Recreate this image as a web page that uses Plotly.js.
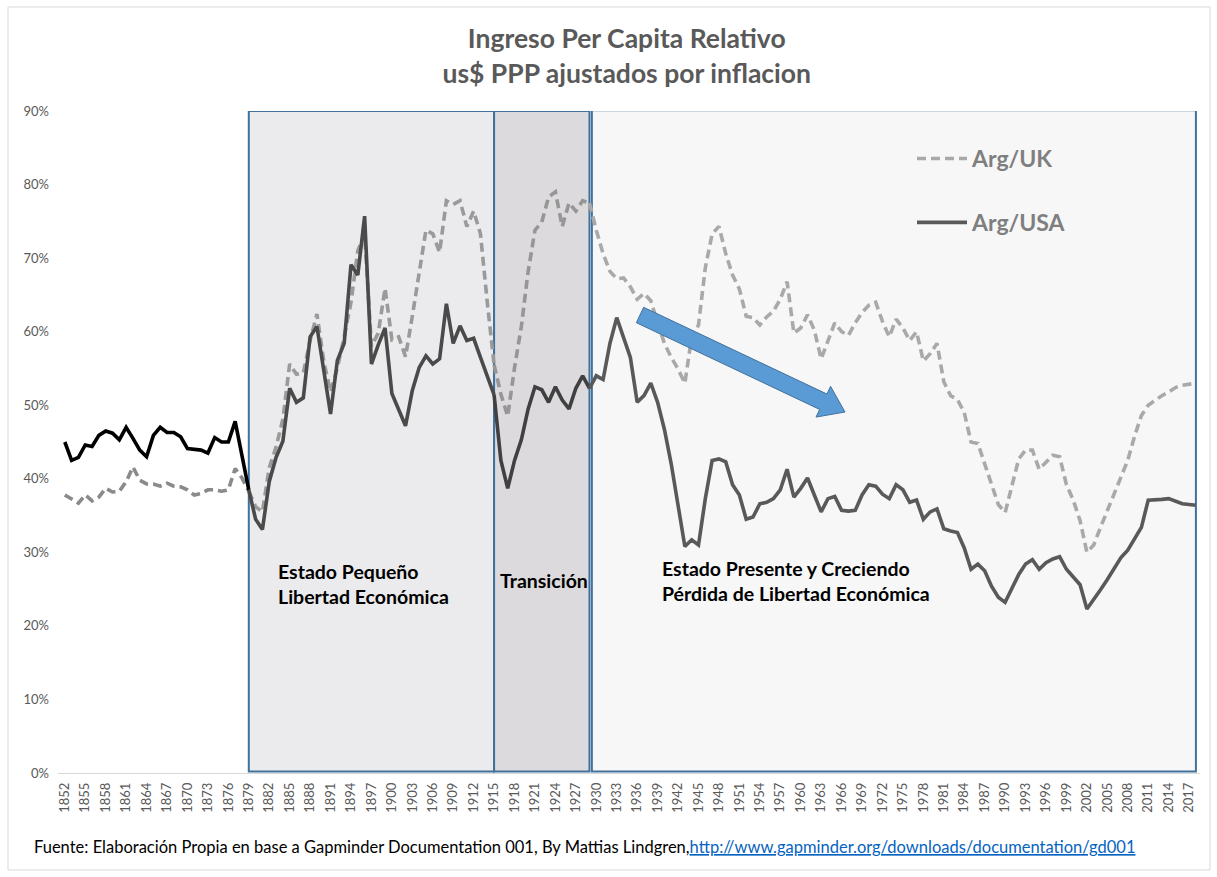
<!DOCTYPE html>
<html>
<head>
<meta charset="utf-8">
<script src="https://cdn.plot.ly/plotly-3.0.1.min.js"></script>
<style>html,body{margin:0;padding:0;background:#fff;}#chart{width:1217px;height:877px;}</style>
</head>
<body>
<div id="chart"></div>
<script>
// ---- DATA ----
const years = [1852,1853,1854,1855,1856,1857,1858,1859,1860,1861,1862,1863,1864,1865,1866,1867,1868,1869,1870,1871,1872,1873,1874,1875,1876,1877,1878,1879,1880,1881,1882,1883,1884,1885,1886,1887,1888,1889,1890,1891,1892,1893,1894,1895,1896,1897,1898,1899,1900,1901,1902,1903,1904,1905,1906,1907,1908,1909,1910,1911,1912,1913,1914,1915,1916,1917,1918,1919,1920,1921,1922,1923,1924,1925,1926,1927,1928,1929,1930,1931,1932,1933,1934,1935,1936,1937,1938,1939,1940,1941,1942,1943,1944,1945,1946,1947,1948,1949,1950,1951,1952,1953,1954,1955,1956,1957,1958,1959,1960,1961,1962,1963,1964,1965,1966,1967,1968,1969,1970,1971,1972,1973,1974,1975,1976,1977,1978,1979,1980,1981,1982,1983,1984,1985,1986,1987,1988,1989,1990,1991,1992,1993,1994,1995,1996,1997,1998,1999,2000,2001,2002,2003,2004,2005,2006,2007,2008,2009,2010,2011,2012,2013,2014,2015,2016,2017,2018];

const argUSA = [45.0,42.5,42.9,44.6,44.4,45.9,46.5,46.2,45.3,47.0,45.5,43.9,43.0,45.9,47.0,46.3,46.3,45.7,44.1,44.0,43.9,43.5,45.6,45.0,45.0,47.8,43.2,38.5,34.5,33.1,39.6,42.9,45.1,52.3,50.4,51.0,59.3,60.7,55.1,48.8,56.1,58.4,69.1,67.7,75.7,55.6,58.2,60.5,51.6,49.5,47.2,52.0,55.1,56.7,55.6,56.3,63.8,58.4,60.8,58.8,59.1,56.5,54.0,51.4,42.5,38.7,42.5,45.3,49.5,52.5,52.1,50.4,52.5,50.7,49.5,52.3,54.0,52.3,54.0,53.5,58.4,61.9,59.3,56.5,50.4,51.3,53.0,50.4,46.7,42.0,36.4,30.8,31.7,31.0,37.3,42.5,42.7,42.3,39.2,37.8,34.5,34.8,36.6,36.8,37.3,38.5,41.3,37.5,38.7,40.1,37.8,35.5,37.3,37.6,35.7,35.6,35.7,37.8,39.2,39.0,37.9,37.3,39.2,38.5,36.8,37.1,34.5,35.5,35.9,33.2,32.9,32.7,30.6,27.7,28.4,27.5,25.4,23.9,23.2,25.1,27.0,28.4,29.0,27.7,28.6,29.1,29.4,27.7,26.7,25.6,22.3,23.5,24.9,26.3,27.7,29.3,30.3,31.9,33.4,37.1,37.1,37.2,37.3,36.9,36.6,36.5,36.4];

const argUK = [37.8,37.3,36.7,37.8,37.0,37.5,38.7,38.2,38.3,39.6,41.6,39.8,39.3,39.3,39.0,39.4,39.0,38.9,38.5,37.8,38.0,38.5,38.5,38.3,38.5,41.4,40.1,38.3,36.2,35.5,41.5,44.3,48.1,55.6,54.2,54.4,58.8,62.4,56.0,51.8,55.1,59.3,64.0,71.0,73.3,58.0,59.8,65.9,58.9,59.3,56.6,62.1,68.2,73.8,73.3,70.8,77.8,77.3,77.8,74.3,76.4,73.3,64.0,55.5,51.5,48.5,55.1,60.7,68.2,73.8,74.9,78.3,79.0,74.3,77.5,76.4,77.8,77.5,73.8,70.6,68.2,67.2,67.3,66.1,64.4,65.2,64.2,61.2,58.4,56.5,54.9,53.0,59.3,60.9,68.7,73.3,74.3,70.6,67.7,65.8,62.1,61.9,60.9,62.0,62.8,64.4,66.8,59.8,60.5,62.3,60.2,56.3,58.8,61.2,60.0,59.5,61.2,62.6,63.6,64.0,61.4,59.3,61.7,60.5,58.8,60.0,56.0,57.0,58.4,53.2,51.3,50.8,49.0,45.0,44.8,42.0,39.2,36.5,35.4,39.2,42.7,43.9,43.9,41.3,42.2,43.2,43.0,39.2,37.1,34.3,30.0,31.0,33.4,35.7,38.0,40.1,42.5,45.8,48.6,50.0,50.7,51.3,51.8,52.4,52.7,52.9,53.0];

const seriesNames = ['Arg/UK', 'Arg/USA'];
const yTickVals = [0,10,20,30,40,50,60,70,80,90];
const xTickVals = [1852,1855,1858,1861,1864,1867,1870,1873,1876,1879,1882,1885,1888,1891,1894,1897,1900,1903,1906,1909,1912,1915,1918,1921,1924,1927,1930,1933,1936,1939,1942,1945,1948,1951,1954,1957,1960,1963,1966,1969,1972,1975,1978,1981,1984,1987,1990,1993,1996,1999,2002,2005,2008,2011,2014,2017];

// periods (boxes) in years
const periods = [
  {name: 'Estado Pequeño<br>Libertad Económica', from: 1879, to: 1915},
  {name: 'Transición', from: 1915, to: 1929},
  {name: 'Estado Presente y Creciendo<br>Pérdida de Libertad Económica', from: 1929, to: 2018}
];

// ---- helpers ----
function slice(arr, y0, y1) {
  const out = [];
  years.forEach((y, i) => { if (y >= y0 && y <= y1) out.push(arr[i]); });
  return out;
}
function sliceYears(y0, y1) { return years.filter(y => y >= y0 && y <= y1); }

const segs = [
  {y0: 1852, y1: 1879, uk: '#8a8a8a', usa: '#000000'},
  {y0: 1879, y1: 1915, uk: '#9a9a9a', usa: '#4a4a4a'},
  {y0: 1915, y1: 1929, uk: '#969696', usa: '#404040'},
  {y0: 1929, y1: 2018, uk: '#a9a9a9', usa: '#595959'}
];

const traces = [];
segs.forEach((s, k) => {
  const last = k === segs.length - 1;
  traces.push({
    type: 'scatter', mode: 'lines', name: seriesNames[0],
    x: sliceYears(s.y0, s.y1), y: slice(argUK, s.y0, s.y1),
    line: {color: s.uk, width: 3.6, dash: '9px,5px'},
    showlegend: last, legendgroup: 'uk', legendrank: 1, hoverinfo: 'skip'
  });
});
segs.forEach((s, k) => {
  const last = k === segs.length - 1;
  traces.push({
    type: 'scatter', mode: 'lines', name: seriesNames[1],
    x: sliceYears(s.y0, s.y1), y: slice(argUSA, s.y0, s.y1),
    line: {color: s.usa, width: 3.6},
    showlegend: last, legendgroup: 'usa', legendrank: 2, hoverinfo: 'skip'
  });
});

// ---- geometry helpers (pixel -> data) ----
const L = 58, R = 1200, T = 111, B = 773;
const xMin = 1851, xMax = 2018.6, yMax = 90;
function dx(px) { return xMin + (px - L) * (xMax - xMin) / (R - L); }
function dy(py) { return (B - py) * yMax / (B - T); }
function px2paperX(px) { return (px - L) / (R - L); }
function px2paperY(py) { return (B - py) / (B - T); }

// arrow
function arrowPath() {
  const S = [640, 315], Tp = [845, 412];
  const vx = Tp[0] - S[0], vy = Tp[1] - S[1];
  const len = Math.hypot(vx, vy);
  const u = [vx / len, vy / len], n = [-u[1], u[0]];
  const hl = 24, bw = 8.5, hw = 17;
  const H = [Tp[0] - hl * u[0], Tp[1] - hl * u[1]];
  const pts = [
    [S[0] + bw * n[0], S[1] + bw * n[1]],
    [H[0] + bw * n[0], H[1] + bw * n[1]],
    [H[0] + hw * n[0], H[1] + hw * n[1]],
    Tp,
    [H[0] - hw * n[0], H[1] - hw * n[1]],
    [H[0] - bw * n[0], H[1] - bw * n[1]],
    [S[0] - bw * n[0], S[1] - bw * n[1]]
  ];
  return 'M' + pts.map(p => dx(p[0]).toFixed(3) + ',' + dy(p[1]).toFixed(3)).join(' L') + ' Z';
}

const boxFills = ['#ebeaec', '#dcdadc', '#f7f7f7'];
const boxX = [[1879, 1915], [1915, 1929.0], [1929.35, 2018]];
const shapes = periods.map((p, i) => ({
  type: 'rect', xref: 'x', yref: 'y', layer: 'between',
  x0: boxX[i][0], x1: boxX[i][1], y0: 0.2, y1: i === 2 ? 90.1 : 90,
  fillcolor: boxFills[i], line: {color: '#41719c', width: 2}
}));
shapes.push({
  type: 'path', xref: 'x', yref: 'y', layer: 'above', path: arrowPath(),
  fillcolor: '#5b9bd5', line: {color: '#41719c', width: 1}
});
shapes.push({
  type: 'rect', xref: 'paper', yref: 'paper', layer: 'below',
  x0: px2paperX(8), x1: px2paperX(1210), y0: px2paperY(870), y1: px2paperY(7),
  fillcolor: 'rgba(0,0,0,0)', line: {color: '#d9d9d9', width: 1}
});

const FONT = 'Lato, "Open Sans", sans-serif';
const textFont = {family: FONT, size: 19.5, color: '#000000', weight: 'bold'};
const annotations = [
  {xref: 'x', yref: 'y', x: dx(276), y: dy(584), text: '<b>' + periods[0].name + '</b>', showarrow: false, xanchor: 'left', yanchor: 'middle', align: 'left', font: textFont},
  {xref: 'x', yref: 'y', x: dx(498), y: dy(580), text: '<b>' + periods[1].name + '</b>', showarrow: false, xanchor: 'left', yanchor: 'middle', align: 'left', font: textFont},
  {xref: 'x', yref: 'y', x: dx(660), y: dy(581), text: '<b>' + periods[2].name + '</b>', showarrow: false, xanchor: 'left', yanchor: 'middle', align: 'left', font: textFont},
  {xref: 'paper', yref: 'paper', x: px2paperX(32), y: px2paperY(847), xanchor: 'left', yanchor: 'middle', showarrow: false,
   text: 'Fuente: Elaboración Propia en base a Gapminder Documentation 001, By Mattias Lindgren,<a href="http://www.gapminder.org/downloads/documentation/gd001" style="color:#0563c1;text-decoration:underline">http://www.gapminder.org/downloads/documentation/gd001</a>',
   font: {family: FONT, size: 16.5, color: '#000000'}}
];

const layout = {
  width: 1217, height: 877,
  margin: {l: L, r: 1217 - R, t: T, b: 877 - B},
  paper_bgcolor: '#ffffff', plot_bgcolor: '#ffffff',
  title: {
    text: 'Ingreso Per Capita Relativo<br>us$ PPP ajustados por inflacion',
    x: 0.515, xanchor: 'center', y: 0.945, yanchor: 'top', yref: 'container',
    font: {family: FONT, size: 26.5, color: '#595959', weight: 'bold'}
  },
  xaxis: {
    range: [xMin, xMax], tickmode: 'array', tickvals: xTickVals, ticktext: xTickVals.map(String),
    tickangle: -90, showgrid: false, zeroline: false, showline: false, ticks: '',
    tickfont: {family: FONT, size: 13, color: '#595959'},
    ticklabelstandoff: 6
  },
  yaxis: {
    range: [0, yMax], tickmode: 'array', tickvals: yTickVals, ticktext: yTickVals.map(v => v + '%'),
    showgrid: false, zeroline: true, zerolinecolor: '#d9d9d9', zerolinewidth: 1, showline: false, ticks: '',
    tickfont: {family: FONT, size: 13, color: '#595959'},
    ticklabelstandoff: 8
  },
  legend: {
    x: px2paperX(912), y: px2paperY(137), xanchor: 'left', yanchor: 'top',
    bgcolor: 'rgba(0,0,0,0)', borderwidth: 0,
    font: {family: FONT, size: 23, color: '#7f7f7f', weight: 'bold'},
    traceorder: 'grouped', tracegroupgap: 31, itemwidth: 50
  },
  shapes: shapes,
  annotations: annotations,
  showlegend: true
};

Plotly.newPlot('chart', traces, layout, {displayModeBar: false, staticPlot: true});
</script>
</body>
</html>
